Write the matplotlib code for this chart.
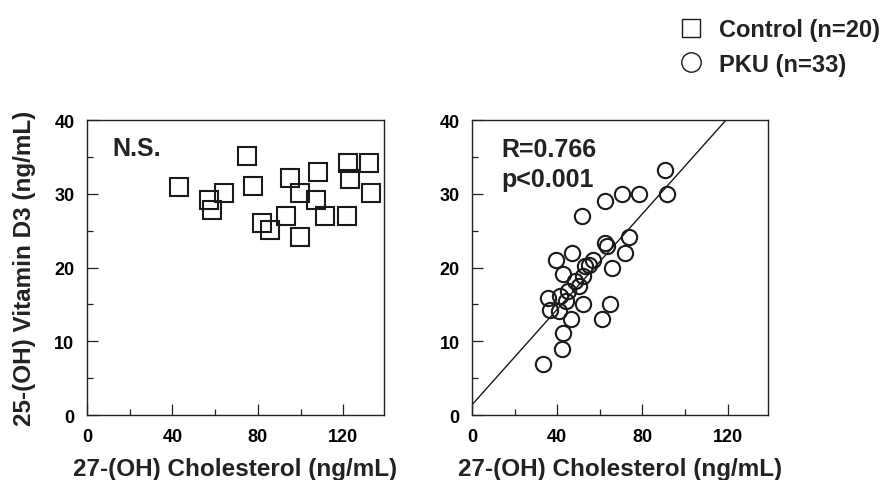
# Vitamin D3 vs 27-(OH) cholesterol, control and PKU panels

import numpy as np
import matplotlib
matplotlib.use("Agg")
import matplotlib.pyplot as plt
from matplotlib.lines import Line2D
from matplotlib.ticker import MultipleLocator

plt.rcParams["font.family"] = ["Liberation Sans", "DejaVu Sans"]
plt.rcParams["font.weight"] = "bold"

# control group (n=20)
ctrl_x = [43, 75, 77.5, 57, 64, 58.5, 95, 108, 122, 132,
          123, 133, 99.5, 107, 111.5, 121.5, 93, 82, 85.5, 99.5]
ctrl_y = [31, 35.2, 31.1, 29.2, 30.1, 27.8, 32.1, 33, 34.2, 34.2,
          32, 30.1, 30.1, 29.2, 27, 27, 27, 26, 25.1, 24.2]

# PKU group (n=33)
pku_x = [90.7, 91.5, 62.5, 70.4, 78.2, 51.5, 73.5, 62.5, 63.5, 71.9, 46.8,
         39.3, 57.0, 53.1, 55.0, 65.6, 42.6, 52.3, 48.4, 45.2, 35.8, 41.3,
         52.3, 64.8, 36.6, 41.0, 46.5, 60.9, 42.6, 42.1, 33.5, 44.0, 50.0]
pku_y = [33.3, 30.0, 29.0, 30.0, 30.0, 27.0, 24.2, 23.3, 23.0, 22.0, 22.0,
         21.0, 21.0, 20.2, 20.4, 20.0, 19.1, 18.9, 18.2, 16.8, 15.9, 16.1,
         15.0, 15.1, 14.2, 14.1, 13.1, 13.1, 11.1, 9.0, 6.9, 15.5, 17.5]

# regression line in the PKU panel
fit_intercept = 1.4
fit_slope = 0.324

x_ticks = [0, 40, 80, 120]
y_ticks = [0, 10, 20, 30, 40]

fig = plt.figure(figsize=(8.84, 4.81), dpi=100)
ax1 = fig.add_axes([0.0984, 0.135, 0.336, 0.613])
ax2 = fig.add_axes([0.534, 0.135, 0.335, 0.613])


def style_axis(ax):
    ax.set_xlim(0, 139)
    ax.set_ylim(0, 40)
    ax.set_xticks(x_ticks)
    ax.set_yticks(y_ticks)
    ax.xaxis.set_minor_locator(MultipleLocator(20))
    ax.yaxis.set_minor_locator(MultipleLocator(5))
    ax.tick_params(which="both", direction="in", top=False, right=False,
                   labelsize=13, width=0.9, color="#222222")
    ax.tick_params(which="major", length=8, pad=9)
    ax.tick_params(which="minor", length=4)
    for lab in ax.get_xticklabels() + ax.get_yticklabels():
        lab.set_fontweight("bold")
    for sp in ax.spines.values():
        sp.set_linewidth(1.0)
        sp.set_color("#222222")
    ax.set_xlabel("27-(OH) Cholesterol (ng/mL)", fontsize=17.5,
                  fontweight="bold", labelpad=9, color="#222222")


style_axis(ax1)
ax1.plot(ctrl_x, ctrl_y, linestyle="none", marker="s", markersize=13,
         markerfacecolor="none", markeredgecolor="#1a1a1a",
         markeredgewidth=1.5)
ax1.text(12, 36.2, "N.S.", fontsize=18, fontweight="bold", va="center",
         color="#222222")
ax1.set_ylabel("25-(OH) Vitamin D3 (ng/mL)", fontsize=17.5, fontweight="bold",
               labelpad=13, color="#222222")

style_axis(ax2)
line_x = np.array([0, 140])
ax2.plot(line_x, fit_intercept + fit_slope * line_x, color="#1a1a1a",
         linewidth=1.0)
ax2.plot(pku_x, pku_y, linestyle="none", marker="o", markersize=11,
         markerfacecolor="none", markeredgecolor="#1a1a1a",
         markeredgewidth=1.5)
ax2.text(13.9, 36.1, "R=0.766", fontsize=18, fontweight="bold", va="center",
         color="#222222")
ax2.text(13.9, 32.0, "p<0.001", fontsize=18, fontweight="bold", va="center",
         color="#222222")

handles = [
    Line2D([], [], linestyle="none", marker="s", markersize=13,
           markerfacecolor="none", markeredgecolor="#1a1a1a",
           markeredgewidth=1.0),
    Line2D([], [], linestyle="none", marker="o", markersize=14,
           markerfacecolor="none", markeredgecolor="#1a1a1a",
           markeredgewidth=1.0),
]
leg = fig.legend(handles, ["Control (n=20)", "PKU (n=33)"],
                 loc="upper left", bbox_to_anchor=(0.747, 1.0),
                 frameon=False, fontsize=17, handlelength=1.0,
                 handletextpad=0.7, labelspacing=0.5, borderpad=0.3)
for t in leg.get_texts():
    t.set_fontweight("bold")
    t.set_color("#222222")

fig.savefig("out.png", dpi=100)
